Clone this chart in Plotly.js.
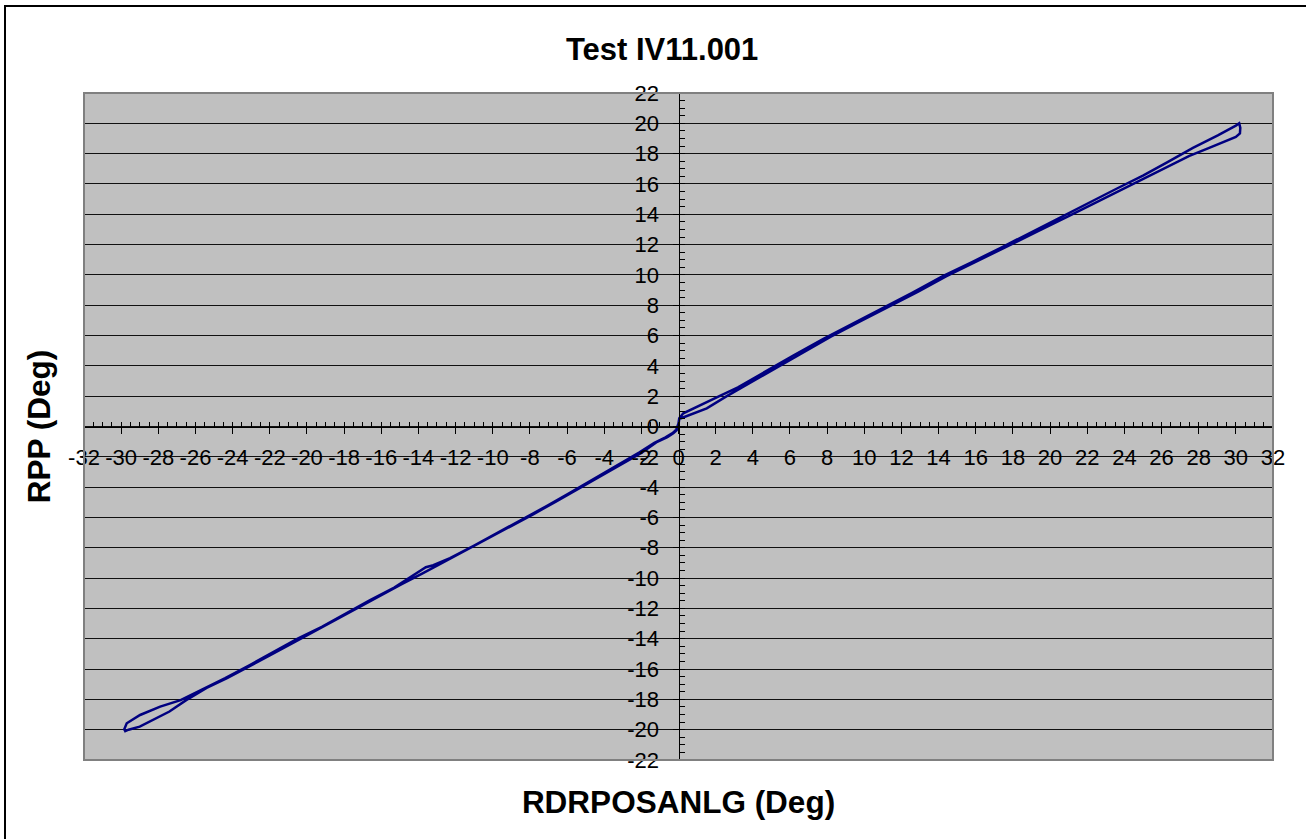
<!DOCTYPE html>
<html>
<head>
<meta charset="utf-8">
<script src="https://cdn.plot.ly/plotly-3.0.1.min.js"></script>
<style>
  html, body { margin: 0; padding: 0; background: #ffffff; overflow: hidden; }
  #chart { position: absolute; left: 0; top: 0; width: 1306px; height: 839px; }
  #frame { position: absolute; left: 4px; top: 5px; width: 1400px; height: 900px;
           border-left: 2px solid #000; border-top: 2px solid #000; pointer-events: none; }
</style>
</head>
<body>
<div id="chart"></div>
<div id="frame"></div>
<script>
// Chart text
const chartTitle = "Test IV11.001";
const xTitle = "RDRPOSANLG (Deg)";
const yTitle = "RPP (Deg)";

// Tick labels (hyphen minus, as in the original)
const xTickVals = [-32, -30, -28, -26, -24, -22, -20, -18, -16, -14, -12, -10, -8, -6, -4, -2,
                   0, 2, 4, 6, 8, 10, 12, 14, 16, 18, 20, 22, 24, 26, 28, 30, 32];
const xTickText = ["-32", "-30", "-28", "-26", "-24", "-22", "-20", "-18", "-16", "-14", "-12", "-10", "-8", "-6", "-4", "-2",
                   "0", "2", "4", "6", "8", "10", "12", "14", "16", "18", "20", "22", "24", "26", "28", "30", "32"];
const yTickVals = [-22, -20, -18, -16, -14, -12, -10, -8, -6, -4, -2,
                   0, 2, 4, 6, 8, 10, 12, 14, 16, 18, 20, 22];
const yTickText = ["-22", "-20", "-18", "-16", "-14", "-12", "-10", "-8", "-6", "-4", "-2",
                   "0", "2", "4", "6", "8", "10", "12", "14", "16", "18", "20", "22"];

// Branch 1 (RDRPOSANLG increasing)
const upX = [-29.84, -29.6, -29.0, -28.2, -27.4, -26.5, -25.4, -24.3, -23.2, -22.0,
             -20.8, -19.6, -18.4, -17.2, -16.0, -14.9, -13.8, -12.6, -11.4, -10.2,
             -9.0, -7.8, -6.6, -5.4, -4.2, -3.0, -2.0, -1.2, -0.6, -0.28,
             -0.1, 0.0, 0.04, 0.17, 0.62, 1.52, 2.6, 3.8, 5.3, 6.8,
             8.2, 9.8, 11.35, 12.9, 14.4, 16.0, 17.7, 19.3, 21.0, 22.6,
             24.2, 25.8, 27.5, 28.5, 29.42, 30.0, 30.22, 30.24, 30.18];
const upY = [-20.13, -20.0, -19.8, -19.3, -18.8, -18.05, -17.25, -16.6, -15.9, -15.1,
             -14.3, -13.5, -12.75, -11.95, -11.1, -10.4, -9.7, -8.92, -8.15, -7.35,
             -6.58, -5.78, -4.95, -4.12, -3.3, -2.45, -1.75, -1.05, -0.7, -0.45,
             -0.25, 0.1, 0.5, 0.56, 0.76, 1.2, 2.0, 2.85, 3.92, 4.95,
             5.92, 6.95, 7.92, 8.9, 9.9, 10.88, 11.9, 12.85, 13.88, 14.85,
             15.85, 16.8, 17.85, 18.35, 18.79, 19.1, 19.34, 19.7, 20.0];

// Branch 2 (RDRPOSANLG decreasing)
const downX = [30.0, 29.03, 27.69, 26.3, 25.0, 23.6, 22.1, 20.6, 19.0, 17.4,
               15.8, 14.2, 12.6, 11.0, 9.4, 7.8, 6.2, 4.6, 3.2, 2.2,
               1.52, 0.8, 0.26, 0.04, 0.0, -0.12, -0.3, -0.7, -1.3, -2.1,
               -3.2, -4.5, -5.8, -7.1, -8.4, -9.7, -11.0, -12.3, -13.2, -13.6,
               -14.0, -15.3, -16.6, -17.9, -19.2, -20.5, -21.8, -23.1, -24.4, -25.6,
               -26.8, -27.9, -28.98, -29.7, -29.86];
const downY = [19.85, 19.2, 18.38, 17.42, 16.55, 15.7, 14.75, 13.8, 12.78, 11.82,
               10.85, 9.9, 8.83, 7.82, 6.8, 5.78, 4.7, 3.58, 2.58, 2.0,
               1.6, 1.2, 0.87, 0.55, 0.2, -0.2, -0.42, -0.72, -1.08, -1.7,
               -2.5, -3.45, -4.35, -5.25, -6.12, -7.0, -7.85, -8.68, -9.15, -9.28,
               -9.6, -10.62, -11.45, -12.35, -13.22, -14.0, -14.9, -15.75, -16.6, -17.35,
               -18.05, -18.48, -19.03, -19.58, -20.05];

// Axis scales
const xRange = [-32, 32];
const yRange = [-22, 22];
const minorStep = 0.5;

const xs = upX.concat(downX);
const ys = upY.concat(downY);

const FONT = "Liberation Sans, Arial, Helvetica, sans-serif";

const trace = {
  type: "scatter",
  mode: "lines",
  x: xs,
  y: ys,
  line: { color: "#000080", width: 2.5 },
  hoverinfo: "skip",
  showlegend: false
};

// empty helper traces so the zero-crossing axes are drawn
const axisHelper2 = { type: "scatter", mode: "lines", x: [], y: [], xaxis: "x2", yaxis: "y2", showlegend: false, hoverinfo: "skip" };
const axisHelper3 = { type: "scatter", mode: "lines", x: [], y: [], xaxis: "x3", yaxis: "y3", showlegend: false, hoverinfo: "skip" };

const tickFont = { family: FONT, size: 22, color: "#000" };
const titleFont = { family: FONT, size: 31.5, weight: "bold", color: "#000" };

const layout = {
  width: 1306,
  height: 839,
  margin: { l: 84, r: 33, t: 93, b: 79, pad: 0 },
  paper_bgcolor: "rgba(0,0,0,0)",
  plot_bgcolor: "#C0C0C0",
  showlegend: false,
  hovermode: false,
  font: { family: FONT, color: "#000" },
  title: {
    text: chartTitle,
    font: { family: FONT, size: 31, weight: "bold", color: "#000" },
    xref: "container", x: 0.507, xanchor: "center",
    yref: "container", y: 0.9416, yanchor: "middle"
  },
  xaxis: {
    range: xRange, showgrid: false, zeroline: false, showline: false,
    ticks: "", showticklabels: false, automargin: false,
    title: { text: xTitle, font: titleFont, standoff: 30 }
  },
  yaxis: {
    range: yRange, showgrid: true, gridcolor: "#111111", gridwidth: 1,
    tickmode: "array", tickvals: yTickVals,
    zeroline: false, showline: false, ticks: "", showticklabels: false, automargin: false,
    title: { text: yTitle, font: titleFont, standoff: 22 }
  },
  xaxis2: {
    overlaying: "x", anchor: "free", position: 0.5, range: xRange,
    showgrid: false, zeroline: false, showline: true, linecolor: "#000", linewidth: 1,
    ticks: "outside", ticklen: 6, tickwidth: 1, tickcolor: "#000",
    tickmode: "array", tickvals: xTickVals, ticktext: xTickText, tickangle: 0,
    tickfont: tickFont, ticklabelstandoff: 5, automargin: false
  },
  xaxis3: {
    overlaying: "x", anchor: "free", position: 0.5, range: xRange,
    showgrid: false, zeroline: false, showline: false, showticklabels: false,
    ticks: "inside", ticklen: 5, tickwidth: 1, tickcolor: "#000",
    tickmode: "array", tickvals: xTickVals, automargin: false,
    minor: { dtick: minorStep, tick0: 0, ticks: "inside", ticklen: 5, tickwidth: 1, tickcolor: "#000", showgrid: false }
  },
  yaxis2: {
    overlaying: "y", anchor: "free", position: 0.5, side: "left", range: yRange,
    showgrid: false, zeroline: false, showline: true, linecolor: "#000", linewidth: 1,
    ticks: "outside", ticklen: 6, tickwidth: 1, tickcolor: "#000",
    tickmode: "array", tickvals: yTickVals, ticktext: yTickText,
    tickfont: tickFont, ticklabelstandoff: 9, automargin: false
  },
  yaxis3: {
    overlaying: "y", anchor: "free", position: 0.5, side: "left", range: yRange,
    showgrid: false, zeroline: false, showline: false, showticklabels: false,
    ticks: "inside", ticklen: 5, tickwidth: 1, tickcolor: "#000",
    tickmode: "array", tickvals: yTickVals, automargin: false,
    minor: { dtick: minorStep, tick0: 0, ticks: "inside", ticklen: 5, tickwidth: 1, tickcolor: "#000", showgrid: false }
  },
  shapes: [{
    type: "rect", xref: "paper", yref: "paper", x0: 0, x1: 1, y0: 0, y1: 1,
    line: { color: "#808080", width: 2 }, fillcolor: "rgba(0,0,0,0)", layer: "above"
  }]
};

Plotly.newPlot("chart", [trace, axisHelper2, axisHelper3], layout, { displayModeBar: false, staticPlot: true });
</script>
</body>
</html>
